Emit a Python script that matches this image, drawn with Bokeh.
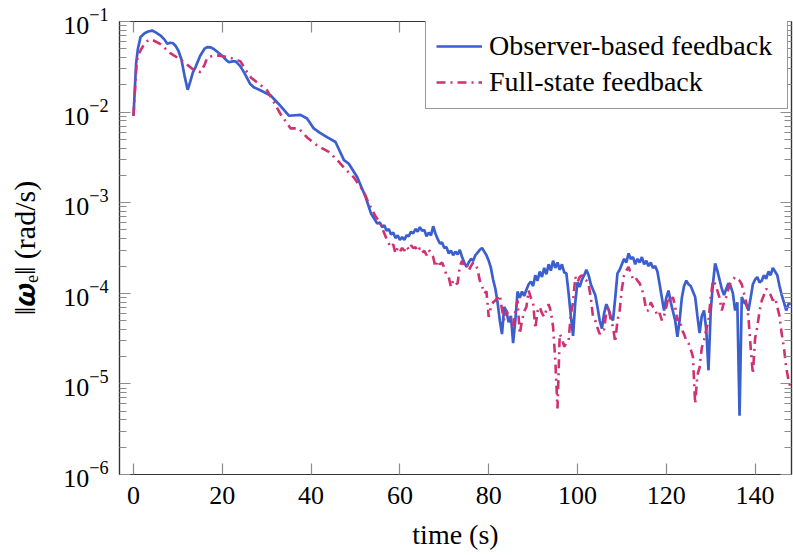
import numpy as np
from bokeh.plotting import figure
from bokeh.models import (FixedTicker, LinearAxis, LogAxis, Legend, LegendItem, Range1d,
                          CustomJSTickFormatter)
from bokeh.embed import file_html
from bokeh.resources import INLINE

# ---------------- data (log10 of ||omega_e|| in rad/s) -------------
obs_time_early = [0, 0.3, 0.6, 1.0, 1.6, 2.5, 3.3, 4.2, 5.0, 6.1, 7.0, 7.6, 8.3, 8.9, 9.5,
                  10.1, 10.8, 11.5, 12.2, 12.8, 13.4, 14.0, 15.0, 16.0, 16.6, 17.3, 18.0,
                  19.0, 20.0, 21.0, 21.5, 22.3, 23.0, 24.0, 25.0, 26.3, 27.1, 29.0, 30.9,
                  32.7, 35.0, 37.6, 39.1, 40.6, 42.0, 43.6, 45.5, 47.4, 48.5, 50.4, 52.3,
                  53.5, 54.9]
obs_exp_early = [-2.04, -1.75, -1.46, -1.30, -1.17, -1.13, -1.11, -1.10, -1.12, -1.155,
                 -1.20, -1.245, -1.235, -1.24, -1.27, -1.32, -1.42, -1.60, -1.754, -1.66,
                 -1.56, -1.50, -1.38, -1.30, -1.283, -1.285, -1.30, -1.34, -1.38, -1.43,
                 -1.45, -1.44, -1.44, -1.49, -1.57, -1.69, -1.725, -1.77, -1.817, -1.91,
                 -2.04, -2.03, -2.07, -2.18, -2.23, -2.277, -2.33, -2.53, -2.57, -2.72,
                 -2.94, -3.12, -3.23]
obs_time_late = np.arange(55.5, 148.01, 0.5)
obs_exp_late = [
    -3.22, -3.27, -3.25, -3.31, -3.29, -3.35, -3.33, -3.39, -3.36, -3.41,
    -3.38, -3.41, -3.36, -3.37, -3.32, -3.34, -3.29, -3.32, -3.27, -3.31,
    -3.30, -3.37, -3.33, -3.36, -3.26, -3.34, -3.40, -3.45, -3.44, -3.50,
    -3.49, -3.56, -3.53, -3.58, -3.54, -3.57, -3.52, -3.60, -3.66, -3.71,
    -3.66, -3.62, -3.64, -3.58, -3.55, -3.52, -3.50, -3.54, -3.58, -3.64,
    -3.72, -3.85, -3.95, -4.10, -4.30, -4.45, -4.15, -4.20, -4.32, -4.25,
    -4.55, -4.30, -3.98, -4.05, -3.98, -4.03, -3.96, -3.90, -3.87, -3.92,
    -3.80, -3.86, -3.76, -3.82, -3.72, -3.79, -3.68, -3.75, -3.64, -3.72,
    -3.66, -3.74, -3.68, -3.77, -3.78, -4.00, -4.25, -4.47, -4.10, -3.88,
    -3.93, -3.85, -3.80, -3.74, -3.80, -3.90, -3.96, -4.02, -4.15, -4.30,
    -4.39, -4.22, -4.12, -4.18, -4.26, -4.30, -4.05, -3.78, -3.74, -3.68,
    -3.62, -3.66, -3.56, -3.62, -3.60, -3.68, -3.62, -3.66, -3.60, -3.68,
    -3.64, -3.70, -3.66, -3.72, -3.70, -3.76, -3.90, -4.05, -4.19, -4.05,
    -3.97, -4.10, -4.20, -4.30, -4.48, -4.30, -4.05, -3.92, -3.86, -3.90,
    -3.92, -3.98, -4.04, -4.25, -4.44, -4.25, -4.19, -4.40, -4.85, -4.20,
    -3.90, -3.67, -3.75, -3.85, -3.95, -4.02, -3.95, -3.89, -3.92, -4.00,
    -4.19, -4.10, -5.35, -4.04, -4.10, -4.12, -4.19, -4.05, -3.90, -3.85,
    -3.82, -3.88, -3.86, -3.80, -3.84, -3.76, -3.80, -3.72, -3.76, -3.80,
    -3.92, -4.02, -4.10, -4.19, -4.12, -4.11]

fs_time_early = [0, 0.4, 0.7, 1.0, 1.6, 2.5, 3.5, 4.5, 6.1, 8.3, 10.6, 13.2, 15.1, 16.0,
                 16.6, 17.8, 19.2, 21.8, 24.1, 25.6, 26.5, 27.8, 30.1, 31.5, 33.1, 35.4,
                 37.2, 39.1, 41.4, 44.0, 45.9, 47.7, 49.6, 51.9, 53.0, 54.5, 55.6]
fs_exp_early = [-2.04, -1.70, -1.46, -1.38, -1.32, -1.24, -1.20, -1.21, -1.25, -1.35,
                -1.42, -1.52, -1.56, -1.48, -1.40, -1.38, -1.375, -1.40, -1.44, -1.56,
                -1.62, -1.67, -1.76, -1.88, -2.02, -2.18, -2.18, -2.28, -2.37, -2.44,
                -2.53, -2.63, -2.72, -2.88, -3.01, -3.15, -3.22]
fs_time_late = np.arange(56.0, 148.01, 0.5)
fs_exp_late = [
    -3.28, -3.34, -3.40, -3.45, -3.49, -3.46, -3.56, -3.50, -3.54, -3.50,
    -3.53, -3.48, -3.52, -3.47, -3.50, -3.49, -3.54, -3.50, -3.55, -3.53,
    -3.58, -3.52, -3.56, -3.60, -3.71, -3.64, -3.68, -3.66, -3.72, -3.80,
    -3.82, -3.93, -3.86, -3.90, -3.89, -3.70, -3.64, -3.70, -3.68, -3.75,
    -3.70, -3.66, -3.67, -3.74, -3.86, -3.92, -4.00, -3.98, -4.26, -4.15,
    -4.10, -4.08, -4.05, -4.02, -4.18, -4.30, -4.19, -4.25, -4.28, -4.36,
    -4.20, -4.08, -4.45, -4.30, -4.20, -4.15, -3.97, -4.05, -4.10, -4.39,
    -4.20, -4.15, -4.22, -4.26, -4.18, -4.12, -4.20, -4.37, -4.74, -5.27,
    -4.45, -4.50, -4.59, -4.55, -4.52, -4.23, -4.10, -3.82, -3.88, -3.82,
    -3.80, -3.84, -3.86, -3.90, -4.05, -4.26, -4.30, -4.38, -4.45, -4.40,
    -4.40, -4.20, -4.15, -4.30, -4.37, -4.54, -4.30, -4.19, -3.95, -3.80,
    -3.75, -3.71, -3.78, -3.84, -3.82, -3.86, -3.89, -3.95, -4.05, -4.19,
    -4.19, -4.10, -4.15, -4.18, -4.25, -4.22, -4.30, -4.25, -4.15, -4.04,
    -4.10, -4.04, -4.15, -4.30, -4.28, -4.40, -4.45, -4.52, -4.55, -4.62,
    -4.70, -5.22, -4.90, -4.82, -4.60, -4.52, -4.40, -4.30, -4.05, -3.86,
    -3.90, -3.97, -4.05, -4.19, -4.10, -4.04, -3.95, -3.88, -3.85, -3.82,
    -3.84, -3.86, -3.90, -4.00, -4.10, -4.26, -4.60, -4.89, -4.50, -4.37,
    -4.20, -4.08, -4.02, -3.95, -3.98, -4.02, -4.08, -4.05, -4.15, -4.25,
    -4.45, -4.60, -4.82, -4.95, -5.04]

x_ticks = [0, 20, 40, 60, 80, 100, 120, 140]
y_decades = [1e-6, 1e-5, 1e-4, 1e-3, 1e-2, 1e-1]
labels = ["Observer-based feedback", "Full-state feedback"]

obs_t = list(obs_time_early) + list(obs_time_late)
obs_v = [10 ** e for e in list(obs_exp_early) + list(obs_exp_late)]
fs_t = list(fs_time_early) + list(fs_time_late)
fs_v = [10 ** e for e in list(fs_exp_early) + list(fs_exp_late)]

BLUE = "#3b5fce"
RED = "#cf3172"
FONT = "'Liberation Serif', serif"
AX = "#333333"
TICK = "#8c8c8c"

p = figure(width=793, height=555, output_backend="svg", toolbar_location=None,
           y_axis_type="log", x_range=Range1d(-3.15, 148.2), y_range=Range1d(1e-6, 1e-1),
           min_border_left=119, min_border_right=2, min_border_top=21, min_border_bottom=81)
p.background_fill_color = "white"
p.border_fill_color = "white"
p.outline_line_color = AX
p.outline_line_width = 1.2
p.xgrid.visible = False
p.ygrid.visible = False

r_obs = p.line(obs_t, obs_v, line_color=BLUE, line_width=2.7)
r_fs = p.line(fs_t, fs_v, line_color=RED, line_width=2.6, line_dash="9 5 2 5")

minor_y = [m * d for d in y_decades[:-1] for m in range(2, 10)]
xt = FixedTicker(ticks=x_ticks, minor_ticks=[])
yt = FixedTicker(ticks=y_decades, minor_ticks=minor_y)


def style(ax):
    ax.axis_line_color = AX
    ax.axis_line_width = 1.2
    ax.major_tick_in = 11
    ax.major_tick_out = 0
    ax.minor_tick_in = 7
    ax.minor_tick_out = 0
    ax.major_tick_line_color = TICK
    ax.minor_tick_line_color = TICK
    ax.major_tick_line_width = 1.2
    ax.minor_tick_line_width = 1.2
    ax.major_label_text_font = FONT
    ax.major_label_text_color = "black"
    ax.major_label_text_font_size = "26px"
    ax.axis_label_text_font = FONT
    ax.axis_label_text_font_style = "normal"
    ax.axis_label_text_color = "black"
    ax.axis_label_text_font_size = "28px"


p.xaxis.ticker = xt
p.yaxis.ticker = yt
style(p.xaxis[0])
style(p.yaxis[0])
p.xaxis.axis_label = "time (s)"
p.xaxis.major_label_standoff = 12
p.xaxis.axis_label_standoff = 12
p.yaxis.axis_label = "‖𝝎ₑ‖ (rad/s)"
p.yaxis.axis_label_text_font_size = "30px"
p.yaxis.major_label_standoff = 11
p.yaxis.axis_label_standoff = 19

blank = CustomJSTickFormatter(code="return ''")
top = LinearAxis(ticker=xt, formatter=blank, major_label_standoff=0)
style(top)
p.add_layout(top, "above")
right = LogAxis(ticker=yt, formatter=CustomJSTickFormatter(code="return ''"),
                major_label_standoff=0)
style(right)
p.add_layout(right, "right")

legend = Legend(items=[LegendItem(label=labels[0], renderers=[r_obs]),
                       LegendItem(label=labels[1], renderers=[r_fs])],
                location=(306, 365))
legend.label_text_font = FONT
legend.label_text_font_size = "28px"
legend.label_text_color = "black"
legend.border_line_color = AX
legend.border_line_width = 1.2
legend.background_fill_color = "white"
legend.background_fill_alpha = 1.0
legend.padding = 10
legend.spacing = 4
legend.margin = 0
legend.glyph_width = 46
legend.glyph_height = 24
legend.label_height = 24
legend.label_width = 288
legend.label_standoff = 7
p.add_layout(legend)

open("out.html", "w").write(file_html(p, INLINE))
